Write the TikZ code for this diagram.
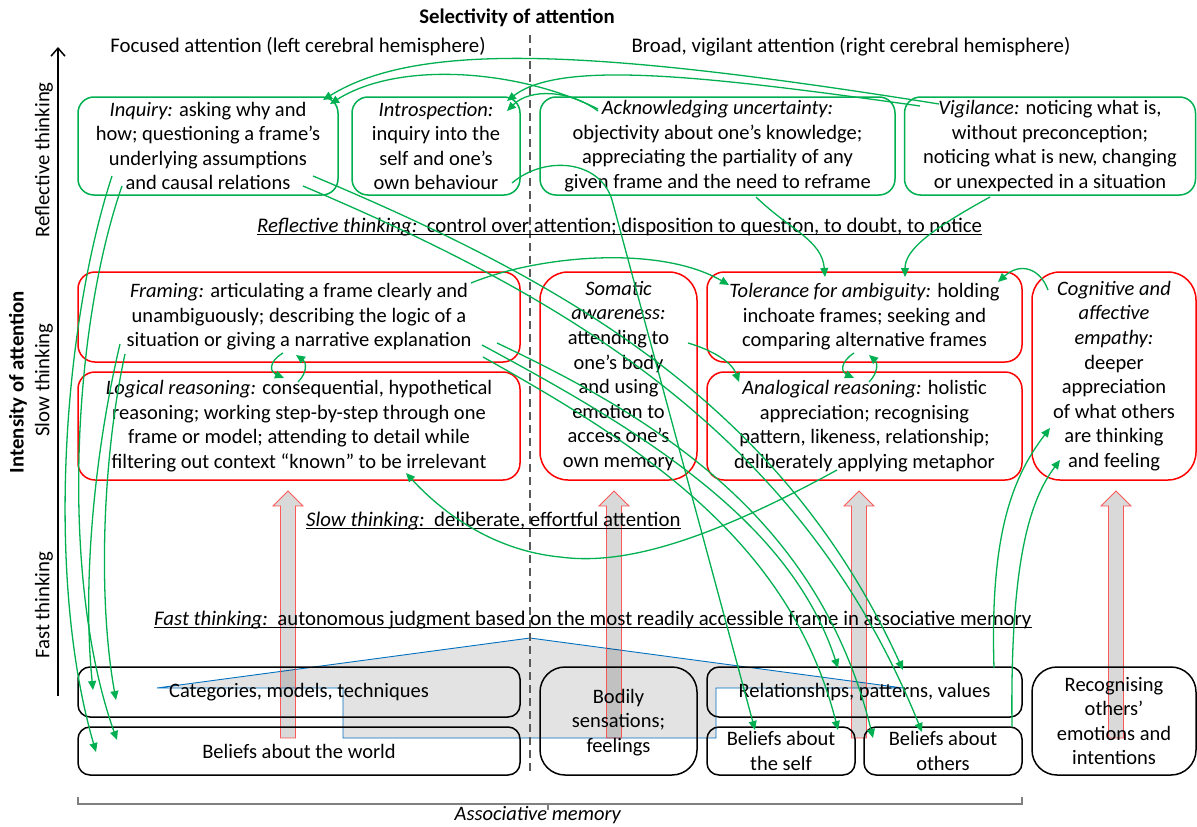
\documentclass[tikz,border=0pt]{standalone}
\usepackage{fontspec}
\setmainfont{Carlito}
\usetikzlibrary{arrows.meta}
\definecolor{gr}{HTML}{00B050}
\definecolor{bl}{HTML}{0070C0}
\definecolor{dg}{HTML}{595959}
\definecolor{brgray}{HTML}{808080}
\newcommand\bfnt{\fontsize{20.5}{24.6}\selectfont}
\newcommand\hfnt{\fontsize{20.8}{25}\selectfont}
\begin{document}
\begin{tikzpicture}[x=1pt,y=-1pt,
  every node/.style={font=\bfnt},
  gbox/.style={draw=gr, line width=1.5pt, rounded corners=16pt, inner sep=0pt, align=center},
  rbox/.style={draw=red, line width=1.5pt, rounded corners=17pt, inner sep=0pt, align=center},
  kbox/.style={draw=black, line width=1.5pt, rounded corners=12pt, inner sep=0pt, align=center},
  garr/.style={draw=gr, line width=1.3pt, -{Triangle[length=9pt,width=8pt]}},
  bigarr/.style={draw=red!75, line width=0.9pt, fill=black, fill opacity=0.15, draw opacity=0.85},
  hd/.style={inner sep=0pt, anchor=base west, font=\hfnt},
  uline/.style={line width=1.4pt}
]
\useasboundingbox (0,0) rectangle (1197,827);

% associative-memory fan (grey, blue outline)
\path[fill=black!11, draw=bl, line width=0.9pt] (157,688) -- (530,638) -- (903,688) -- (716,688) -- (716,738) -- (343,738) -- (343,688) -- cycle;

% title and column heads
\node[inner sep=0pt, font=\hfnt] (title) at (517,18) {\bfseries Selectivity of attention};
\node[inner sep=0pt, font=\hfnt] (left) at (298,47) {Focused attention (left cerebral hemisphere)};
\node[inner sep=0pt, font=\hfnt] (right) at (851,47) {Broad, vigilant attention (right cerebral hemisphere)};

% dashed divider
\coordinate (dtop) at (530,35);
\coordinate (dbot) at (530,775);
\draw[dg, line width=1.5pt, dash pattern=on 8pt off 5pt] (dtop) -- (dbot);

% vertical axis
\coordinate (axb) at (58,696);
\coordinate (axt) at (58,47);
\draw[line width=1.5pt, -{Straight Barb[length=8pt,width=14pt]}] (axb) -- (axt);
\node[rotate=90, inner sep=0pt, font=\hfnt] (lrt) at (44,160) {Reflective thinking};
\node[rotate=90, inner sep=0pt, font=\hfnt] (lst) at (44,380) {Slow thinking};
\node[rotate=90, inner sep=0pt, font=\hfnt] (lft) at (44,605) {Fast thinking};
\node[rotate=90, inner sep=0pt, font=\hfnt] (lia) at (18,382) {\bfseries Intensity of attention};

% big upward arrows
\foreach \cx in {288,614,859,1116}{
  \draw[bigarr] (\cx-7.5,738) -- (\cx-7.5,506) -- (\cx-15,506) -- (\cx,491) -- (\cx+15,506) -- (\cx+7.5,506) -- (\cx+7.5,738) -- cycle;
}

% reflective boxes
\node[gbox, minimum width=260pt, minimum height=98pt] (inq) at (208,146) {\textit{Inquiry:} asking why and\\how; questioning a frame’s\\underlying assumptions\\and causal relations};
\node[gbox, minimum width=168pt, minimum height=98pt] (intro) at (436,146) {\textit{Introspection:}\\inquiry into the\\self and one’s\\own behaviour};
\node[gbox, minimum width=355pt, minimum height=98pt] (ack) at (717.5,146) {\textit{Acknowledging uncertainty:}\\objectivity about one’s knowledge;\\appreciating the partiality of any\\given frame and the need to reframe};
\node[gbox, minimum width=291pt, minimum height=98pt] (vig) at (1050,146) {\textit{Vigilance:} noticing what is,\\without preconception;\\noticing what is new, changing\\or unexpected in a situation};

\node[hd] (hrefl) at (257,232) {\textit{Reflective thinking:}\ \ control over attention; disposition to question, to doubt, to notice};
\draw[uline] ([yshift=-2.5pt]hrefl.base west) -- ([yshift=-2.5pt]hrefl.base east);

% slow thinking boxes
\node[rbox, minimum width=442pt, minimum height=90pt] (fram) at (299,317) {\textit{Framing:} articulating a frame clearly and\\unambiguously; describing the logic of a\\situation or giving a narrative explanation};
\node[rbox, minimum width=442pt, minimum height=108pt] (logi) at (299,426) {\textit{Logical reasoning:} consequential, hypothetical\\reasoning; working step-by-step through one\\frame or model; attending to detail while\\filtering out context “known” to be irrelevant};
\node[rbox, rounded corners=28pt, minimum width=157pt, minimum height=208pt] (soma) at (618.5,376) {\textit{Somatic}\\\textit{awareness:}\\attending to\\one’s body\\and using\\emotion to\\access one’s\\own memory};
\node[rbox, minimum width=315pt, minimum height=90pt] (tol) at (864.5,317) {\textit{Tolerance for ambiguity:} holding\\inchoate frames; seeking and\\comparing alternative frames};
\node[rbox, minimum width=315pt, minimum height=108pt] (ana) at (864.5,426) {\textit{Analogical reasoning:} holistic\\appreciation; recognising\\pattern, likeness, relationship;\\deliberately applying metaphor};
\node[rbox, rounded corners=28pt, minimum width=164pt, minimum height=208pt] (emp) at (1114,376) {\textit{Cognitive and}\\\textit{affective}\\\textit{empathy:}\\deeper\\appreciation\\of what others\\are thinking\\and feeling};

\node[hd] (hslow) at (306,526) {\textit{Slow thinking:}\ \ deliberate, effortful attention};
\draw[uline] ([yshift=-2.5pt]hslow.base west) -- ([yshift=-2.5pt]hslow.base east);

\node[hd] (hfast) at (154,625) {\textit{Fast thinking:}\ \ autonomous judgment based on the most readily accessible frame in associative memory};
\draw[uline] ([yshift=-2.5pt]hfast.base west) -- ([yshift=-2.5pt]hfast.base east);

% associative memory boxes
\node[kbox, minimum width=442pt, minimum height=50pt] (cat) at (299,692) {Categories, models, techniques};
\node[kbox, minimum width=442pt, minimum height=48pt] (bw) at (299,751) {Beliefs about the world};
\node[kbox, rounded corners=25pt, minimum width=157pt, minimum height=108pt] (bod) at (618.5,721) {\strut Bodily\\sensations;\\feelings};
\node[kbox, minimum width=315pt, minimum height=50pt] (rel) at (864.5,692) {Relationships, patterns, values};
\node[kbox, minimum width=148pt, minimum height=48pt] (self) at (781,751) {Beliefs about\\the self};
\node[kbox, minimum width=158pt, minimum height=48pt] (oth) at (943,751) {Beliefs about\\others};
\node[kbox, rounded corners=25pt, minimum width=164pt, minimum height=108pt] (rec) at (1114,721) {Recognising\\others’\\emotions and\\intentions};

% brace
\coordinate (brl) at (78,797);
\coordinate (brr) at (1022,797);
\coordinate (brm) at (548,804);
\draw[brgray, line width=1.5pt] (brl) -- (78,804) -- (1022,804) -- (brr);
\draw[brgray, line width=1.5pt] (brm) -- (548,810);
\node[inner sep=0pt] (assoc) at (538,815) {\textit{Associative memory}};

% ---- green connectors ----
\coordinate (vigA) at (939,104);  \coordinate (inqA) at (323,100);
\coordinate (ackA) at (598,109);  \coordinate (inqB) at (330,104);
\coordinate (vigB) at (920,106);  \coordinate (intA) at (507,101);
\coordinate (ackB) at (598,111);  \coordinate (intB) at (507,111);
\draw[garr] (vigA) .. controls (600,50) and (420,40) .. (inqA);
\draw[garr] (ackA) .. controls (520,70) and (400,60) .. (inqB);
\draw[garr] (vigB) .. controls (700,75) and (560,60) .. (intA);
\draw[garr] (ackB) .. controls (570,90) and (530,88) .. (intB);

% introspection -> beliefs about the self
\coordinate (intC) at (512,183); \coordinate (selfA) at (755,730);
\draw[garr] (intC) .. controls (545,155) and (600,160) .. (612,200) -- (selfA);

% inquiry / framing -> left memory boxes
\coordinate (inqL1) at (112,176); \coordinate (bwL1) at (96,752);
\coordinate (inqL2) at (122,186); \coordinate (bwL2) at (117,740);
\coordinate (frL1) at (120,344);  \coordinate (catL1) at (93,690);
\coordinate (frL2) at (125,354);  \coordinate (catL2) at (116,700);
\draw[garr] (inqL1) .. controls (62,330) and (46,580) .. (bwL1);
\draw[garr] (inqL2) .. controls (72,330) and (60,580) .. (bwL2);
\draw[garr] (frL1) .. controls (95,450) and (82,580) .. (catL1);
\draw[garr] (frL2) .. controls (102,460) and (98,600) .. (catL2);

% inquiry / framing -> right memory boxes
\coordinate (inqR1) at (313,176); \coordinate (relA) at (903,670);
\coordinate (inqR2) at (303,186); \coordinate (othA) at (922,732);
\coordinate (frR1) at (482,345);  \coordinate (relB) at (838,668);
\coordinate (frR2) at (497,343);  \coordinate (othB) at (873,738);
\coordinate (frR3) at (483,357);  \coordinate (selfB) at (838,730);
\draw[garr] (inqR1) .. controls (560,280) and (780,400) .. (relA);
\draw[garr] (inqR2) .. controls (560,295) and (800,430) .. (othA);
\draw[garr] (frR1) .. controls (640,430) and (790,520) .. (relB);
\draw[garr] (frR2) .. controls (660,420) and (820,520) .. (othB);
\draw[garr] (frR3) .. controls (640,445) and (790,540) .. (selfB);

% into tolerance for ambiguity
\coordinate (frT) at (471,283);   \coordinate (tolA) at (729,285);
\coordinate (ackT) at (756,197);  \coordinate (tolB) at (825,277);
\coordinate (vigT) at (990,197);  \coordinate (tolC) at (905,277);
\coordinate (empT) at (1048,290); \coordinate (tolD) at (998,282);
\draw[garr] (frT) .. controls (540,255) and (660,245) .. (tolA);
\draw[garr] (ackT) .. controls (790,230) and (822,240) .. (tolB);
\draw[garr] (vigT) .. controls (930,230) and (905,250) .. (tolC);
\draw[garr] (empT) .. controls (1040,268) and (1020,262) .. (tolD);

% mutual arrows framing <-> logical, tolerance <-> analogical
\coordinate (fl1) at (283,353); \coordinate (lf1) at (284,378);
\coordinate (lf2) at (298,382); \coordinate (fl2) at (296,355);
\coordinate (ta1) at (854,353); \coordinate (at1) at (854,378);
\coordinate (at2) at (869,382); \coordinate (ta2) at (869,355);
\draw[garr] (fl1) .. controls (268,362) and (270,372) .. (lf1);
\draw[garr] (lf2) .. controls (308,372) and (306,362) .. (fl2);
\draw[garr] (ta1) .. controls (840,362) and (841,372) .. (at1);
\draw[garr] (at2) .. controls (879,372) and (877,362) .. (ta2);

% somatic -> analogical
\coordinate (somA) at (688,343); \coordinate (anaA) at (739,382);
\draw[garr] (somA) .. controls (712,350) and (732,362) .. (anaA);

% analogical -> logical
\coordinate (anaB) at (837,470); \coordinate (logA) at (406,473);
\draw[garr] (anaB) .. controls (700,545) and (620,565) .. (560,557) .. controls (490,550) and (440,510) .. (logA);

% memory -> empathy
\coordinate (relE) at (994,668);  \coordinate (empA) at (1050,428);
\coordinate (othE) at (1012,727); \coordinate (empB) at (1060,460);
\draw[garr] (relE) .. controls (990,540) and (1010,480) .. (empA);
\draw[garr] (othE) .. controls (1010,560) and (1030,500) .. (empB);
\end{tikzpicture}
\end{document}
